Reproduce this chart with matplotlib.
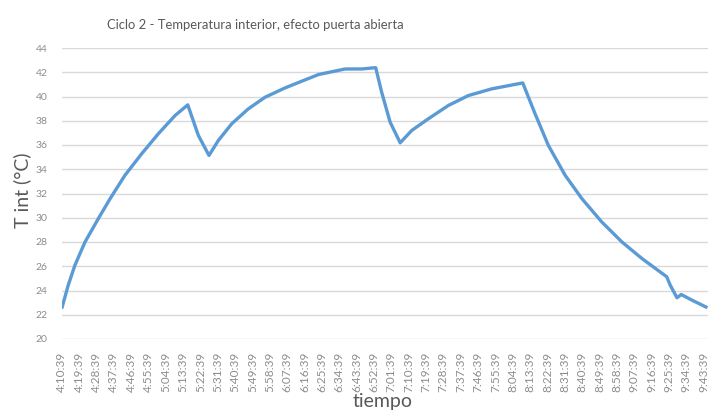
import matplotlib.pyplot as plt

plt.rcParams['font.family'] = ['Lato', 'DejaVu Sans']

# minutes since 4:10:39 and interior temperature
minutos = [0, 3.4, 6.9, 12.1, 19.0, 25.1, 32.8, 41.5, 50.1, 58.8, 65.4, 70.9,
           76.4, 81.3, 88.2, 96.8, 105.5, 115.9, 124.5, 133.2, 147, 155.7,
           162.9, 166, 170.4, 175.6, 181.6, 190.2, 200.6, 211, 223.1, 239.2,
           245.6, 252.5, 261.2, 269.9, 280.2, 290.6, 301, 313.9, 315.7, 319.2,
           321.4, 326.9, 335]
temp = [22.5, 24.45, 26.1, 28.0, 29.93, 31.57, 33.5, 35.28, 36.92, 38.43, 39.31, 36.79,
        35.14, 36.38, 37.75, 38.98, 39.94, 40.71, 41.26, 41.81, 42.27, 42.27,
        42.38, 40.35, 37.88, 36.18, 37.2, 38.16, 39.26, 40.08, 40.63, 41.12,
        38.57, 35.96, 33.5, 31.57, 29.65, 28.01, 26.64, 25.13, 24.44, 23.4,
        23.67, 23.21, 22.58]

etiquetas = ['4:10:39', '4:19:39', '4:28:39', '4:37:39', '4:46:39', '4:55:39',
             '5:04:39', '5:13:39', '5:22:39', '5:31:39', '5:40:39', '5:49:39',
             '5:58:39', '6:07:39', '6:16:39', '6:25:39', '6:34:39', '6:43:39',
             '6:52:39', '7:01:39', '7:10:39', '7:19:39', '7:28:39', '7:37:39',
             '7:46:39', '7:55:39', '8:04:39', '8:13:39', '8:22:39', '8:31:39',
             '8:40:39', '8:49:39', '8:58:39', '9:07:39', '9:16:39', '9:25:39',
             '9:34:39', '9:43:39']
pos_etiquetas = [9 * i for i in range(len(etiquetas))]

gris = '#595959'
W, H = 708, 413

fig = plt.figure(figsize=(W / 100, H / 100), dpi=100)
ax = fig.add_axes([61.7 / W, 74 / H, (W - 61.7) / W, 291 / H])

ax.plot(minutos, temp, color='#5B9BD5', lw=2.4, solid_joinstyle='round',
        solid_capstyle='butt', zorder=3)

ax.set_xlim(0, 335.3)
ax.set_ylim(20, 44)
ax.set_yticks(range(20, 45, 2))
ax.set_xticks(pos_etiquetas)
ax.set_xticklabels(etiquetas, rotation=90, va='top')
ax.tick_params(axis='both', length=0, colors='#8c8c8c')
ax.tick_params(axis='y', pad=10, labelsize=7.5)
ax.tick_params(axis='x', pad=9, labelsize=8.5)
ax.grid(axis='y', color='#d9d9d9', lw=1)
for s in ax.spines.values():
    s.set_visible(False)

fig.text(22 / W, 1 - 190 / H, 'T int (°C)', rotation=90, ha='center', va='center',
         color=gris, fontsize=14)
fig.text(383 / W, 1 - 401 / H, 'tiempo', ha='center', va='center',
         color=gris, fontsize=14)
fig.text(255 / W, 1 - 25 / H, 'Ciclo 2 - Temperatura interior, efecto puerta abierta',
         ha='center', va='center', color=gris, fontsize=9.4)

fig.savefig('out.png', dpi=100)
